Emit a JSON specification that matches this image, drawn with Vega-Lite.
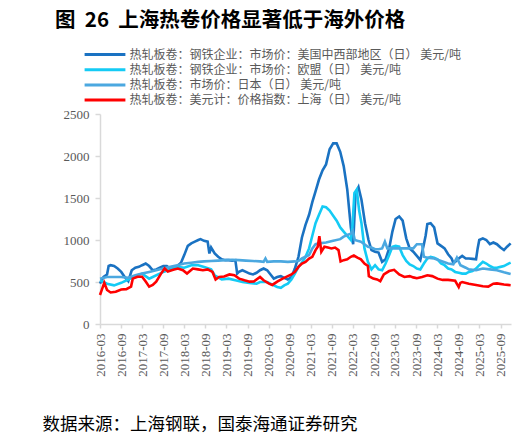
{
  "$schema": "https://vega.github.io/schema/vega-lite/v6.json",
  "width": 411,
  "height": 210,
  "autosize": {"type": "none"},
  "padding": {"left": 100, "top": 114, "right": 17, "bottom": 113},
  "background": "white",
  "title": {
    "text": "图\u00a0\u00a026\u00a0\u00a0上海热卷价格显著低于海外价格",
    "anchor": "start",
    "frame": "group",
    "dx": -45,
    "offset": 16,
    "font": "Noto Sans CJK SC",
    "fontSize": 20.5,
    "fontWeight": "bold",
    "color": "#000000"
  },
  "datasets": {
    "us": [
      {"d": "2016-03-01", "v": 480}, {"d": "2016-04-01", "v": 560}, {"d": "2016-05-01", "v": 590}, {"d": "2016-05-15", "v": 690},
      {"d": "2016-06-01", "v": 700}, {"d": "2016-07-01", "v": 690}, {"d": "2016-08-01", "v": 660}, {"d": "2016-09-01", "v": 620},
      {"d": "2016-10-01", "v": 560}, {"d": "2016-11-01", "v": 510}, {"d": "2016-12-01", "v": 640}, {"d": "2017-01-01", "v": 670},
      {"d": "2017-02-01", "v": 680}, {"d": "2017-03-01", "v": 700}, {"d": "2017-04-01", "v": 720}, {"d": "2017-05-01", "v": 690},
      {"d": "2017-06-01", "v": 640}, {"d": "2017-07-01", "v": 650}, {"d": "2017-08-01", "v": 670}, {"d": "2017-09-01", "v": 690},
      {"d": "2017-10-01", "v": 690}, {"d": "2017-11-01", "v": 660}, {"d": "2017-12-01", "v": 660}, {"d": "2018-01-01", "v": 690},
      {"d": "2018-02-01", "v": 730}, {"d": "2018-03-01", "v": 820}, {"d": "2018-04-01", "v": 930}, {"d": "2018-05-01", "v": 960},
      {"d": "2018-06-01", "v": 980}, {"d": "2018-07-01", "v": 1000}, {"d": "2018-07-20", "v": 1010}, {"d": "2018-08-20", "v": 990},
      {"d": "2018-09-20", "v": 980}, {"d": "2018-10-05", "v": 840}, {"d": "2018-10-20", "v": 910}, {"d": "2018-11-20", "v": 840},
      {"d": "2018-12-20", "v": 800}, {"d": "2019-01-20", "v": 770}, {"d": "2019-02-20", "v": 760}, {"d": "2019-03-20", "v": 760},
      {"d": "2019-04-20", "v": 755}, {"d": "2019-05-18", "v": 760}, {"d": "2019-06-03", "v": 600}, {"d": "2019-06-18", "v": 620},
      {"d": "2019-07-18", "v": 640}, {"d": "2019-08-18", "v": 620}, {"d": "2019-09-18", "v": 600}, {"d": "2019-10-18", "v": 590},
      {"d": "2019-11-18", "v": 610}, {"d": "2019-12-18", "v": 640}, {"d": "2020-01-18", "v": 660}, {"d": "2020-02-18", "v": 640},
      {"d": "2020-03-18", "v": 590}, {"d": "2020-04-15", "v": 540}, {"d": "2020-05-15", "v": 560}, {"d": "2020-06-15", "v": 570},
      {"d": "2020-07-15", "v": 550}, {"d": "2020-08-15", "v": 530}, {"d": "2020-09-15", "v": 560}, {"d": "2020-10-15", "v": 660},
      {"d": "2020-11-15", "v": 800}, {"d": "2020-12-15", "v": 1030}, {"d": "2021-01-15", "v": 1180}, {"d": "2021-02-15", "v": 1300},
      {"d": "2021-03-15", "v": 1450}, {"d": "2021-04-12", "v": 1580}, {"d": "2021-05-12", "v": 1720}, {"d": "2021-06-12", "v": 1830},
      {"d": "2021-07-12", "v": 1900}, {"d": "2021-08-12", "v": 2080}, {"d": "2021-09-12", "v": 2150}, {"d": "2021-10-12", "v": 2150},
      {"d": "2021-11-12", "v": 2050}, {"d": "2021-12-12", "v": 1880}, {"d": "2022-01-12", "v": 1600}, {"d": "2022-02-12", "v": 1150},
      {"d": "2022-03-04", "v": 950}, {"d": "2022-03-25", "v": 1560}, {"d": "2022-04-19", "v": 1630}, {"d": "2022-05-15", "v": 1480},
      {"d": "2022-06-15", "v": 1200}, {"d": "2022-07-15", "v": 1000}, {"d": "2022-08-10", "v": 880}, {"d": "2022-09-10", "v": 860},
      {"d": "2022-10-10", "v": 850}, {"d": "2022-11-10", "v": 740}, {"d": "2022-12-10", "v": 770}, {"d": "2023-01-10", "v": 900},
      {"d": "2023-02-07", "v": 1100}, {"d": "2023-03-07", "v": 1250}, {"d": "2023-04-07", "v": 1280}, {"d": "2023-05-07", "v": 1230},
      {"d": "2023-06-07", "v": 1020}, {"d": "2023-07-07", "v": 900}, {"d": "2023-08-07", "v": 860}, {"d": "2023-09-07", "v": 810},
      {"d": "2023-10-07", "v": 760}, {"d": "2023-11-07", "v": 950}, {"d": "2023-11-22", "v": 1050}, {"d": "2023-12-07", "v": 1190},
      {"d": "2024-01-04", "v": 1200}, {"d": "2024-02-04", "v": 1150}, {"d": "2024-03-04", "v": 960}, {"d": "2024-04-04", "v": 930},
      {"d": "2024-05-04", "v": 900}, {"d": "2024-06-04", "v": 830}, {"d": "2024-07-04", "v": 780}, {"d": "2024-07-19", "v": 730},
      {"d": "2024-08-04", "v": 740}, {"d": "2024-09-04", "v": 780}, {"d": "2024-10-04", "v": 810}, {"d": "2024-11-04", "v": 780},
      {"d": "2024-12-01", "v": 780}, {"d": "2025-01-01", "v": 775}, {"d": "2025-02-01", "v": 770}, {"d": "2025-02-15", "v": 900},
      {"d": "2025-03-01", "v": 1000}, {"d": "2025-04-01", "v": 1020}, {"d": "2025-05-01", "v": 1000}, {"d": "2025-06-01", "v": 950},
      {"d": "2025-07-01", "v": 970}, {"d": "2025-08-01", "v": 950}, {"d": "2025-09-01", "v": 910}, {"d": "2025-10-01", "v": 880},
      {"d": "2025-10-28", "v": 920}, {"d": "2025-11-28", "v": 960}
    ],
    "eu": [
      {"d": "2016-03-01", "v": 520}, {"d": "2016-04-01", "v": 500}, {"d": "2016-05-01", "v": 480}, {"d": "2016-07-01", "v": 460},
      {"d": "2016-09-01", "v": 490}, {"d": "2016-11-01", "v": 530}, {"d": "2017-01-01", "v": 570}, {"d": "2017-03-01", "v": 600},
      {"d": "2017-05-01", "v": 540}, {"d": "2017-06-01", "v": 560}, {"d": "2017-09-01", "v": 620}, {"d": "2017-11-01", "v": 650},
      {"d": "2018-01-01", "v": 680}, {"d": "2018-03-01", "v": 670}, {"d": "2018-05-01", "v": 700}, {"d": "2018-07-01", "v": 700},
      {"d": "2018-08-20", "v": 680}, {"d": "2018-10-20", "v": 650}, {"d": "2018-11-20", "v": 580}, {"d": "2019-01-20", "v": 530},
      {"d": "2019-03-20", "v": 540}, {"d": "2019-05-18", "v": 520}, {"d": "2019-07-18", "v": 500}, {"d": "2019-09-18", "v": 490},
      {"d": "2019-11-18", "v": 480}, {"d": "2019-12-18", "v": 500}, {"d": "2020-02-18", "v": 500}, {"d": "2020-04-15", "v": 460},
      {"d": "2020-05-15", "v": 440}, {"d": "2020-06-15", "v": 430}, {"d": "2020-07-15", "v": 460}, {"d": "2020-08-15", "v": 480},
      {"d": "2020-09-15", "v": 530}, {"d": "2020-10-15", "v": 600}, {"d": "2020-11-15", "v": 680}, {"d": "2020-12-15", "v": 730},
      {"d": "2021-01-15", "v": 800}, {"d": "2021-02-15", "v": 900}, {"d": "2021-03-15", "v": 1050}, {"d": "2021-04-12", "v": 1200},
      {"d": "2021-05-12", "v": 1300}, {"d": "2021-06-12", "v": 1400}, {"d": "2021-07-12", "v": 1390}, {"d": "2021-08-12", "v": 1350},
      {"d": "2021-09-12", "v": 1290}, {"d": "2021-10-12", "v": 1230}, {"d": "2021-11-12", "v": 1150}, {"d": "2021-12-12", "v": 1100},
      {"d": "2022-01-12", "v": 1050}, {"d": "2022-02-12", "v": 1000}, {"d": "2022-02-25", "v": 1150}, {"d": "2022-03-15", "v": 1560},
      {"d": "2022-04-04", "v": 1600}, {"d": "2022-04-25", "v": 1350}, {"d": "2022-05-15", "v": 1200}, {"d": "2022-06-10", "v": 900},
      {"d": "2022-07-10", "v": 740}, {"d": "2022-08-10", "v": 650}, {"d": "2022-09-10", "v": 700}, {"d": "2022-10-10", "v": 650},
      {"d": "2022-11-10", "v": 640}, {"d": "2022-12-10", "v": 720}, {"d": "2023-01-10", "v": 820}, {"d": "2023-02-07", "v": 920},
      {"d": "2023-03-07", "v": 930}, {"d": "2023-04-07", "v": 920}, {"d": "2023-05-07", "v": 820}, {"d": "2023-06-07", "v": 750},
      {"d": "2023-07-07", "v": 710}, {"d": "2023-08-07", "v": 690}, {"d": "2023-09-07", "v": 660}, {"d": "2023-10-07", "v": 650},
      {"d": "2023-11-07", "v": 720}, {"d": "2023-12-07", "v": 780}, {"d": "2024-01-04", "v": 800}, {"d": "2024-02-04", "v": 790},
      {"d": "2024-03-04", "v": 770}, {"d": "2024-04-04", "v": 720}, {"d": "2024-05-04", "v": 700}, {"d": "2024-06-04", "v": 660},
      {"d": "2024-07-04", "v": 650}, {"d": "2024-08-04", "v": 620}, {"d": "2024-09-04", "v": 610}, {"d": "2024-10-04", "v": 600},
      {"d": "2024-11-04", "v": 600}, {"d": "2024-12-01", "v": 620}, {"d": "2025-01-01", "v": 630}, {"d": "2025-02-01", "v": 660},
      {"d": "2025-03-01", "v": 700}, {"d": "2025-04-01", "v": 740}, {"d": "2025-05-01", "v": 720}, {"d": "2025-06-01", "v": 690},
      {"d": "2025-07-01", "v": 670}, {"d": "2025-08-01", "v": 670}, {"d": "2025-09-01", "v": 680}, {"d": "2025-10-01", "v": 690},
      {"d": "2025-10-28", "v": 710}, {"d": "2025-11-28", "v": 730}
    ],
    "jp": [
      {"d": "2016-03-01", "v": 540}, {"d": "2016-05-01", "v": 560}, {"d": "2016-07-01", "v": 560}, {"d": "2016-09-01", "v": 560},
      {"d": "2016-11-01", "v": 550}, {"d": "2017-01-01", "v": 580}, {"d": "2017-03-01", "v": 600}, {"d": "2017-05-01", "v": 620},
      {"d": "2017-07-01", "v": 640}, {"d": "2017-09-01", "v": 660}, {"d": "2017-11-01", "v": 680}, {"d": "2018-01-01", "v": 700},
      {"d": "2018-03-01", "v": 720}, {"d": "2018-05-01", "v": 730}, {"d": "2018-07-01", "v": 740}, {"d": "2018-08-20", "v": 745},
      {"d": "2018-10-20", "v": 750}, {"d": "2018-12-20", "v": 755}, {"d": "2019-02-20", "v": 760}, {"d": "2019-04-20", "v": 765},
      {"d": "2019-06-18", "v": 760}, {"d": "2019-08-18", "v": 755}, {"d": "2019-10-18", "v": 750}, {"d": "2019-12-18", "v": 745},
      {"d": "2020-01-18", "v": 740}, {"d": "2020-02-03", "v": 780}, {"d": "2020-02-18", "v": 740}, {"d": "2020-04-15", "v": 745},
      {"d": "2020-06-15", "v": 745}, {"d": "2020-08-15", "v": 740}, {"d": "2020-10-15", "v": 745}, {"d": "2020-11-15", "v": 750},
      {"d": "2020-12-15", "v": 780}, {"d": "2021-01-15", "v": 800}, {"d": "2021-02-15", "v": 820}, {"d": "2021-03-15", "v": 900},
      {"d": "2021-04-12", "v": 950}, {"d": "2021-05-12", "v": 960}, {"d": "2021-07-12", "v": 970}, {"d": "2021-09-12", "v": 990},
      {"d": "2021-11-12", "v": 1010}, {"d": "2021-12-12", "v": 1040}, {"d": "2022-01-12", "v": 1060}, {"d": "2022-02-12", "v": 1075},
      {"d": "2022-03-01", "v": 1110}, {"d": "2022-03-18", "v": 1000}, {"d": "2022-04-10", "v": 990}, {"d": "2022-05-10", "v": 980},
      {"d": "2022-06-10", "v": 950}, {"d": "2022-07-10", "v": 920}, {"d": "2022-08-10", "v": 910}, {"d": "2022-09-10", "v": 890},
      {"d": "2022-10-10", "v": 890}, {"d": "2022-11-10", "v": 900}, {"d": "2022-12-04", "v": 980}, {"d": "2022-12-25", "v": 900},
      {"d": "2023-02-07", "v": 900}, {"d": "2023-04-07", "v": 900}, {"d": "2023-06-07", "v": 900}, {"d": "2023-08-07", "v": 900},
      {"d": "2023-09-07", "v": 950}, {"d": "2023-10-22", "v": 950}, {"d": "2023-11-07", "v": 800}, {"d": "2023-12-07", "v": 790},
      {"d": "2024-02-04", "v": 780}, {"d": "2024-04-04", "v": 750}, {"d": "2024-06-04", "v": 720}, {"d": "2024-07-19", "v": 710},
      {"d": "2024-08-19", "v": 790}, {"d": "2024-09-19", "v": 700}, {"d": "2024-11-04", "v": 670}, {"d": "2024-12-01", "v": 650},
      {"d": "2025-02-01", "v": 640}, {"d": "2025-04-01", "v": 660}, {"d": "2025-06-01", "v": 650}, {"d": "2025-08-01", "v": 640},
      {"d": "2025-10-01", "v": 615}, {"d": "2025-11-28", "v": 595}
    ],
    "sh": [
      {"d": "2016-03-01", "v": 345}, {"d": "2016-03-15", "v": 400}, {"d": "2016-04-07", "v": 490}, {"d": "2016-05-01", "v": 405},
      {"d": "2016-06-01", "v": 375}, {"d": "2016-07-15", "v": 385}, {"d": "2016-09-01", "v": 410}, {"d": "2016-10-15", "v": 415},
      {"d": "2016-11-25", "v": 445}, {"d": "2016-12-10", "v": 540}, {"d": "2017-01-20", "v": 563}, {"d": "2017-03-01", "v": 563},
      {"d": "2017-04-01", "v": 505}, {"d": "2017-05-01", "v": 445}, {"d": "2017-06-01", "v": 465}, {"d": "2017-07-01", "v": 505},
      {"d": "2017-08-12", "v": 600}, {"d": "2017-09-12", "v": 660}, {"d": "2017-10-10", "v": 625}, {"d": "2017-11-25", "v": 645},
      {"d": "2018-01-05", "v": 660}, {"d": "2018-02-18", "v": 640}, {"d": "2018-03-25", "v": 600}, {"d": "2018-05-15", "v": 660},
      {"d": "2018-06-28", "v": 650}, {"d": "2018-08-10", "v": 640}, {"d": "2018-09-20", "v": 650}, {"d": "2018-11-01", "v": 620},
      {"d": "2018-11-28", "v": 530}, {"d": "2018-12-28", "v": 560}, {"d": "2019-02-10", "v": 565}, {"d": "2019-03-28", "v": 590},
      {"d": "2019-05-10", "v": 580}, {"d": "2019-06-20", "v": 540}, {"d": "2019-08-05", "v": 520}, {"d": "2019-09-18", "v": 504},
      {"d": "2019-10-25", "v": 505}, {"d": "2019-12-18", "v": 560}, {"d": "2020-01-18", "v": 520}, {"d": "2020-03-05", "v": 480},
      {"d": "2020-04-02", "v": 465}, {"d": "2020-05-15", "v": 505}, {"d": "2020-07-01", "v": 540}, {"d": "2020-08-15", "v": 570},
      {"d": "2020-09-15", "v": 590}, {"d": "2020-10-15", "v": 620}, {"d": "2020-11-15", "v": 680}, {"d": "2020-12-15", "v": 720},
      {"d": "2021-01-15", "v": 740}, {"d": "2021-02-15", "v": 780}, {"d": "2021-03-15", "v": 800}, {"d": "2021-04-12", "v": 880},
      {"d": "2021-05-01", "v": 920}, {"d": "2021-05-15", "v": 1045}, {"d": "2021-06-01", "v": 860}, {"d": "2021-06-28", "v": 920},
      {"d": "2021-07-28", "v": 910}, {"d": "2021-08-28", "v": 900}, {"d": "2021-09-28", "v": 910}, {"d": "2021-10-28", "v": 880},
      {"d": "2021-11-15", "v": 745}, {"d": "2021-12-12", "v": 760}, {"d": "2022-01-12", "v": 770}, {"d": "2022-02-12", "v": 800},
      {"d": "2022-03-10", "v": 815}, {"d": "2022-04-10", "v": 790}, {"d": "2022-05-10", "v": 770}, {"d": "2022-06-10", "v": 720},
      {"d": "2022-07-10", "v": 690}, {"d": "2022-07-18", "v": 570}, {"d": "2022-08-25", "v": 540}, {"d": "2022-09-28", "v": 530},
      {"d": "2022-10-25", "v": 510}, {"d": "2022-11-25", "v": 590}, {"d": "2023-01-10", "v": 630}, {"d": "2023-02-22", "v": 645},
      {"d": "2023-04-07", "v": 590}, {"d": "2023-05-22", "v": 560}, {"d": "2023-07-07", "v": 570}, {"d": "2023-08-07", "v": 555},
      {"d": "2023-09-07", "v": 545}, {"d": "2023-10-22", "v": 560}, {"d": "2023-12-07", "v": 580}, {"d": "2024-01-18", "v": 570},
      {"d": "2024-03-04", "v": 540}, {"d": "2024-04-18", "v": 525}, {"d": "2024-06-04", "v": 525}, {"d": "2024-08-04", "v": 515},
      {"d": "2024-09-04", "v": 440}, {"d": "2024-09-18", "v": 490}, {"d": "2024-10-04", "v": 500}, {"d": "2024-12-01", "v": 480},
      {"d": "2025-02-01", "v": 465}, {"d": "2025-04-01", "v": 450}, {"d": "2025-05-18", "v": 445}, {"d": "2025-07-01", "v": 480},
      {"d": "2025-08-01", "v": 484}, {"d": "2025-10-01", "v": 470}, {"d": "2025-11-28", "v": 462}
    ]
  },
  "encoding": {
    "x": {
      "field": "d",
      "type": "temporal",
      "scale": {
        "type": "utc",
        "domain": [
          {"year": 2016, "month": 3, "date": 1, "utc": true},
          {"year": 2025, "month": 12, "date": 1, "utc": true}
        ]
      },
      "axis": {
        "title": "数据来源：上海钢联，国泰海通证券研究",
        "titleFont": "Noto Sans CJK SC",
        "titleFontSize": 17.5,
        "titleFontWeight": "normal",
        "titleColor": "#000000",
        "titleX": -58,
        "titleY": 100,
        "titleAlign": "left",
        "titleBaseline": "middle",
        "titleAngle": 0,
        "format": "%Y-%m",
        "labelAngle": 270,
        "labelFont": "Liberation Serif",
        "labelFontSize": 13,
        "labelColor": "#595959",
        "labelPadding": 5,
        "labelFlush": false,
        "labelOverlap": false,
        "tickSize": 4,
        "values": [
          {"year": 2016, "month": 3, "date": 1, "utc": true}, {"year": 2016, "month": 9, "date": 1, "utc": true},
          {"year": 2017, "month": 3, "date": 1, "utc": true}, {"year": 2017, "month": 9, "date": 1, "utc": true},
          {"year": 2018, "month": 3, "date": 1, "utc": true}, {"year": 2018, "month": 9, "date": 1, "utc": true},
          {"year": 2019, "month": 3, "date": 1, "utc": true}, {"year": 2019, "month": 9, "date": 1, "utc": true},
          {"year": 2020, "month": 3, "date": 1, "utc": true}, {"year": 2020, "month": 9, "date": 1, "utc": true},
          {"year": 2021, "month": 3, "date": 1, "utc": true}, {"year": 2021, "month": 9, "date": 1, "utc": true},
          {"year": 2022, "month": 3, "date": 1, "utc": true}, {"year": 2022, "month": 9, "date": 1, "utc": true},
          {"year": 2023, "month": 3, "date": 1, "utc": true}, {"year": 2023, "month": 9, "date": 1, "utc": true},
          {"year": 2024, "month": 3, "date": 1, "utc": true}, {"year": 2024, "month": 9, "date": 1, "utc": true},
          {"year": 2025, "month": 3, "date": 1, "utc": true}, {"year": 2025, "month": 9, "date": 1, "utc": true}
        ]
      }
    },
    "y": {
      "field": "v",
      "type": "quantitative",
      "scale": {"domain": [0, 2500], "nice": false, "zero": true},
      "axis": {
        "title": null,
        "values": [0, 500, 1000, 1500, 2000, 2500],
        "format": "d",
        "labelFont": "Liberation Serif",
        "labelFontSize": 13,
        "labelColor": "#595959",
        "labelPadding": 6,
        "tickSize": 5
      }
    }
  },
  "layer": [
    {
      "data": {"name": "us"},
      "mark": {"type": "line", "strokeWidth": 2.6},
      "encoding": {
        "color": {
          "datum": "热轧板卷：钢铁企业：市场价：美国中西部地区（日） 美元/吨",
          "scale": {
            "domain": [
              "热轧板卷：钢铁企业：市场价：美国中西部地区（日） 美元/吨",
              "热轧板卷：钢铁企业：市场价：欧盟（日） 美元/吨",
              "热轧板卷：市场价：日本（日） 美元/吨",
              "热轧板卷：美元计：价格指数：上海（日） 美元/吨"
            ],
            "range": ["#1A72C2", "#14CBF5", "#4BA8E0", "#FF0000"]
          },
          "legend": {"title": null}
        }
      }
    },
    {
      "data": {"name": "eu"},
      "mark": {"type": "line", "strokeWidth": 2.6},
      "encoding": {"color": {"datum": "热轧板卷：钢铁企业：市场价：欧盟（日） 美元/吨"}}
    },
    {
      "data": {"name": "jp"},
      "mark": {"type": "line", "strokeWidth": 2.6},
      "encoding": {"color": {"datum": "热轧板卷：市场价：日本（日） 美元/吨"}}
    },
    {
      "data": {"name": "sh"},
      "mark": {"type": "line", "strokeWidth": 2.6},
      "encoding": {"color": {"datum": "热轧板卷：美元计：价格指数：上海（日） 美元/吨"}}
    }
  ],
  "config": {
    "view": {"stroke": null},
    "axis": {
      "grid": false,
      "domainColor": "#D9D9D9",
      "domainWidth": 1.5,
      "tickColor": "#D9D9D9",
      "tickWidth": 1.5
    },
    "legend": {
      "orient": "none",
      "legendX": -2.5,
      "legendY": -67,
      "direction": "vertical",
      "padding": 0,
      "symbolType": "M-3.4,0H3.4",
      "symbolSize": 144,
      "symbolStrokeWidth": 3,
      "labelFont": "Noto Sans CJK SC",
      "labelFontSize": 12,
      "labelColor": "#595959",
      "labelOffset": 17,
      "labelLimit": 500,
      "rowPadding": 1.2
    }
  }
}
